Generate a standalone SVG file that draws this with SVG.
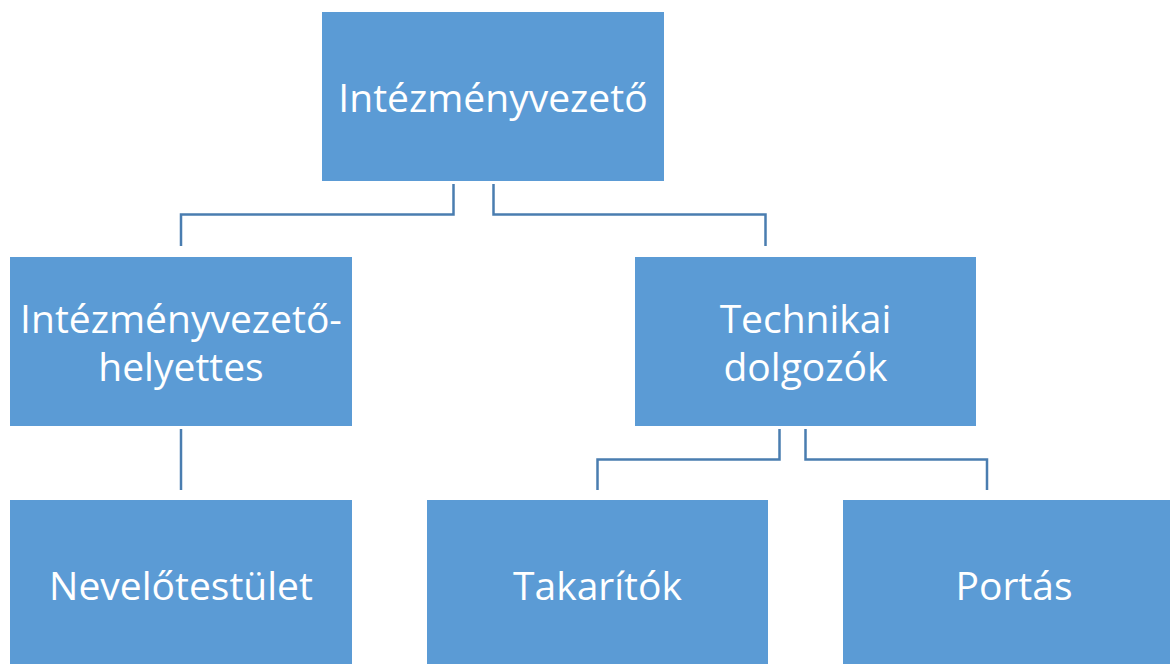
<svg xmlns="http://www.w3.org/2000/svg" width="1170" height="664" viewBox="0 0 1170 664">
<style>
.box{fill:#5B9BD5}
.t{fill:#fff;font-family:"Open Sans","Liberation Sans",sans-serif;font-size:39px;text-anchor:middle;dominant-baseline:central}
.c{fill:none;stroke:#4A7DB0;stroke-width:2.5}
</style>
<rect width="1170" height="664" fill="#fff"/>
<g id="connectors">
<path class="c" d="M453.5,184 V214.5 H181 V246"/>
<path class="c" d="M493.5,184 V214.5 H765.5 V246"/>
<path class="c" d="M181,429 V490"/>
<path class="c" d="M779.5,429 V459.5 H597.5 V490"/>
<path class="c" d="M805.5,429 V459.5 H987 V490"/>
</g>
<g id="n1"><rect class="box" x="322" y="12" width="342" height="169"/><text class="t" x="493" y="96">Intézményvezető</text></g>
<g id="n2"><rect class="box" x="10" y="257" width="342" height="169"/><text class="t" x="181" y="317">Intézményvezető-</text><text class="t" x="181" y="365">helyettes</text></g>
<g id="n3"><rect class="box" x="635" y="257" width="341" height="169"/><text class="t" x="805.5" y="317">Technikai</text><text class="t" x="805.5" y="365">dolgozók</text></g>
<g id="n4"><rect class="box" x="10" y="500" width="342" height="169"/><text class="t" x="181" y="584">Nevelőtestület</text></g>
<g id="n5"><rect class="box" x="427" y="500" width="341" height="169"/><text class="t" x="597.5" y="584">Takarítók</text></g>
<g id="n6"><rect class="box" x="843" y="500" width="342" height="169"/><text class="t" x="1014" y="584">Portás</text></g>
</svg>
